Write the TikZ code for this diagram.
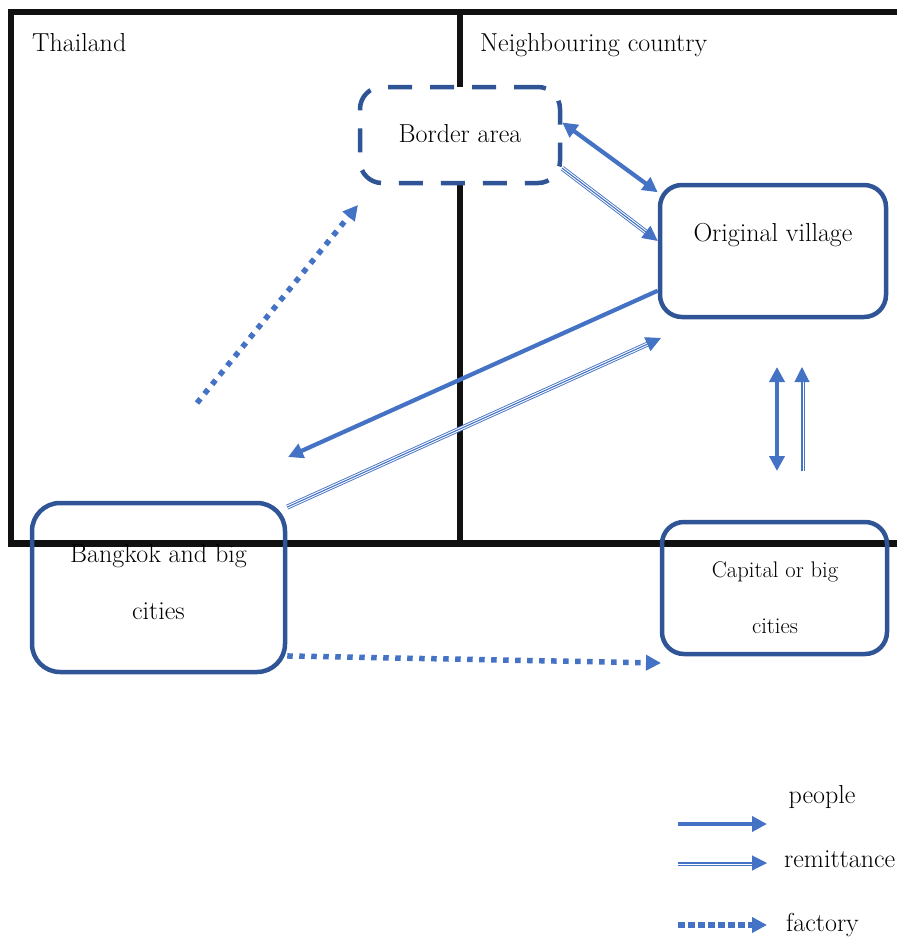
\documentclass[tikz,border=0pt]{standalone}
\usetikzlibrary{arrows.meta}
\definecolor{abl}{HTML}{4472C4}
\definecolor{dbl}{HTML}{2F5597}
\definecolor{frm}{HTML}{111111}
\begin{document}
\begin{tikzpicture}[x=1pt,y=-1pt,
  lbl/.style={inner sep=0pt, font=\fontsize{26}{30}\selectfont},
  lbls/.style={inner sep=0pt, font=\fontsize{22.6}{26}\selectfont},
  box/.style={draw=dbl, line width=4.5pt, rounded corners=22pt, inner sep=0pt},
  tip/.style={-{Triangle[length=15pt,width=15pt]}},
  ppl/.style={draw=abl, line width=4.2pt, tip},
  pplboth/.style={draw=abl, line width=4.2pt, {Triangle[length=15pt,width=15pt]}-{Triangle[length=15pt,width=15pt]}},
  remit/.style={draw=abl, line width=1.1pt, tip,
    preaction={draw=abl, line width=5pt, arrows=-, shorten >=10pt},
    preaction={draw=white, line width=3.2pt, arrows=-, shorten >=10pt}},
  fact/.style={draw=abl, line width=5.5pt, dash pattern=on 5.5pt off 6.5pt, tip},
]
\useasboundingbox (0,0) rectangle (897,938);

% frame
\draw[line width=6.5pt, frm] (900,12) -- (11,12) -- (11,543.5) -- (900,543.5);
\draw[line width=6.5pt, frm] (460,12) -- (460,543.5);

% boxes
\node[box, dashed, dash pattern=on 24pt off 18pt, fill=white, minimum width=200pt, minimum height=96pt] (border) at (460,135) {};
\node[box, minimum width=226pt, minimum height=132pt] (village) at (773,251) {};
\node[box, rounded corners=28pt, minimum width=253pt, minimum height=169pt] (bkk) at (158.5,587.5) {};
\node[box, minimum width=225pt, minimum height=132pt] (cap) at (774.5,588) {};

% texts
\node[lbl, anchor=base west] (thai) at (32,51) {Thailand};
\node[lbl, anchor=base west] (neigh) at (480,51) {Neighbouring country};
\node[lbl, anchor=base] (bordert) at (460,142) {Border area};
\node[lbl, anchor=base] (villt) at (773,241) {Original village};
\node[lbl, anchor=base] (bkk1) at (158.5,562) {Bangkok and big};
\node[lbl, anchor=base] (bkk2) at (158.5,619) {cities};
\node[lbls, anchor=base] (cap1) at (775,577) {Capital or big};
\node[lbls, anchor=base] (cap2) at (775,633) {cities};

% free ends
\coordinate (p1) at (288,457);
\coordinate (r1) at (661,338);
\coordinate (f1s) at (197,403);
\coordinate (f1e) at (358,205);
\coordinate (f2e) at (661,663);
\coordinate (vp1) at (777,471);
\coordinate (vp2) at (777,367);
\coordinate (vr1) at (802,471);
\coordinate (vr2) at (802,367);

% connectors
\draw[pplboth] (border.7.4) -- (village.153.6);
\draw[remit] (border.-18) -- (village.175);
\draw[ppl] (village.199.5) -- (p1);
\draw[remit] (bkk.32.2) -- (r1);
\draw[fact] (f1s) -- (f1e);
\draw[fact] (bkk.-28.8) -- (f2e);
\draw[pplboth] (vp1) -- (vp2);
\draw[remit] (vr1) -- (vr2);

% legend
\coordinate (lp1) at (678,824);
\coordinate (lp2) at (767,824);
\coordinate (lr1) at (678,863);
\coordinate (lr2) at (767,863);
\coordinate (lf1) at (678,925);
\coordinate (lf2) at (767,925);
\draw[ppl] (lp1) -- (lp2);
\draw[remit] (lr1) -- (lr2);
\draw[fact, dash pattern=on 6.5pt off 3.5pt] (lf1) -- (lf2);
\node[lbl, anchor=base] (lgp) at (822,803) {people};
\node[lbl, anchor=base west] (lgr) at (784,867) {remittance};
\node[lbl, anchor=base west] (lgf) at (786,931) {factory};
\end{tikzpicture}
\end{document}
